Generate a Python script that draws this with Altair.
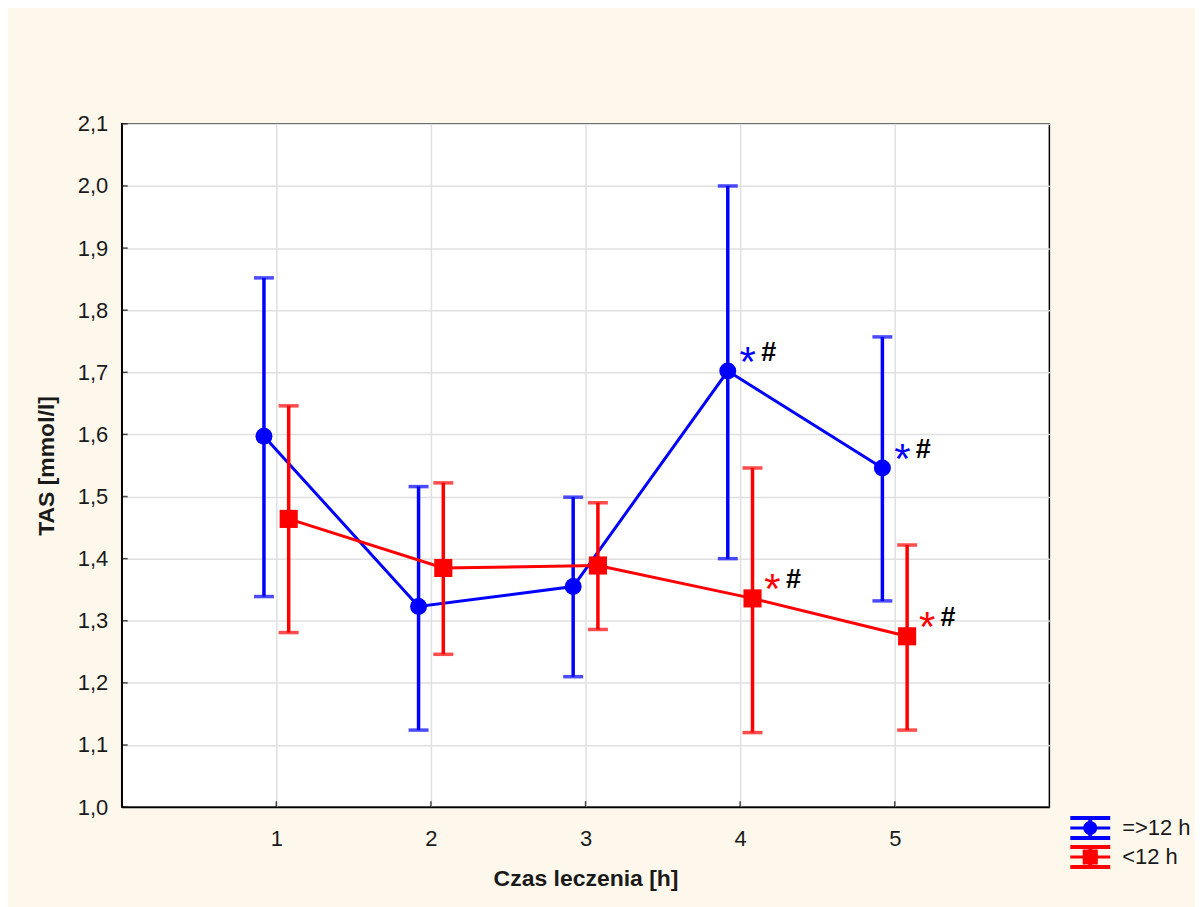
import altair as alt
import pandas as pd

# ---- data ----
times = [1, 2, 3, 4, 5]
groups = ["=>12 h", "<12 h"]
colors = ["#0000FF", "#FF0000"]

blue_mean = [1.597, 1.323, 1.355, 1.702, 1.546]
blue_lo = [1.339, 1.124, 1.210, 1.400, 1.332]
blue_hi = [1.852, 1.516, 1.499, 2.000, 1.757]
blue_sig = [False, False, False, True, True]

red_mean = [1.464, 1.385, 1.389, 1.336, 1.275]
red_lo = [1.281, 1.246, 1.286, 1.120, 1.124]
red_hi = [1.646, 1.522, 1.490, 1.546, 1.422]
red_sig = [False, False, False, True, True]

x_ticks = [1, 2, 3, 4, 5]
y_ticks = [1.0, 1.1, 1.2, 1.3, 1.4, 1.5, 1.6, 1.7, 1.8, 1.9, 2.0, 2.1]

FONT = "Liberation Sans"
TXT = "#1a1a1a"

series = [
    (groups[0], colors[0], blue_mean, blue_lo, blue_hi, blue_sig, -0.08, "circle", 290),
    (groups[1], colors[1], red_mean, red_lo, red_hi, red_sig, 0.08, "square", 330),
]

xscale = alt.Scale(domain=[0, 6], nice=False, zero=False)
yscale = alt.Scale(domain=[1.0, 2.1], nice=False, zero=False)
xaxis = alt.Axis(values=x_ticks, title="Czas leczenia [h]", format="d",
                 labelPadding=21, titlePadding=19, grid=True)
yaxis = alt.Axis(values=y_ticks, title="TAS [mmol/l]", grid=True,
                 labelExpr="replace(format(datum.value, '.1f'), '.', ',')",
                 labelPadding=14, titlePadding=19)

X = alt.X("xpos:Q", scale=xscale, axis=xaxis)

# legend symbols: error-bar glyph with the series marker
circle_path = ("M-1.43,-0.857H1.43V-0.571H-1.43Z M-1.43,0.571H1.43V0.857H-1.43Z "
               "M-0.143,-0.6H0.143V0.6H-0.143Z M-1.43,-0.107H1.43V0.107H-1.43Z "
               "M-0.5,0A0.5,0.5,0,1,1,0.5,0A0.5,0.5,0,1,1,-0.5,0Z")
square_path = ("M-1.43,-0.857H1.43V-0.571H-1.43Z M-1.43,0.571H1.43V0.857H-1.43Z "
               "M-0.143,-0.6H0.143V0.6H-0.143Z M-1.43,-0.107H1.43V0.107H-1.43Z "
               "M-0.54,-0.54H0.54V0.54H-0.54Z")

layers = []
frames = []
for name, col, mean, lo, hi, sig, off, shp, sz in series:
    df = pd.DataFrame({"group": name, "t": times, "mean": mean, "lo": lo, "hi": hi, "sig": sig})
    frames.append(df.assign(off=off))

all_df = pd.concat(frames)
# legend layer: tiny marks hidden under the real markers, carrying the legend
leg = alt.Chart(all_df).transform_calculate(xpos="datum.t + datum.off").mark_point(
    filled=True, size=8, opacity=1).encode(
    x=X, y=alt.Y("mean:Q", scale=yscale, axis=yaxis),
    color=alt.Color("group:N", scale=alt.Scale(domain=groups, range=colors),
                    legend=alt.Legend(orient="none", legendX=957, legendY=692, title=None,
                                      symbolSize=784, symbolStrokeWidth=0, symbolOpacity=1,
                                      labelFont=FONT, labelFontSize=22, labelColor=TXT,
                                      labelOffset=18, rowPadding=3, padding=0)),
    shape=alt.Shape("group:N", scale=alt.Scale(domain=groups, range=[circle_path, square_path])),
)
layers.append(leg)

for (name, col, mean, lo, hi, sig, off, shp, sz), df in zip(series, frames):
    base = alt.Chart(df).transform_calculate(xpos=f"datum.t + ({off})")
    line = base.mark_line(color=col, strokeWidth=3).encode(
        x=X, y=alt.Y("mean:Q", scale=yscale, axis=yaxis))
    rule = base.mark_rule(color=col, strokeWidth=3.5).encode(
        x=X, y=alt.Y("lo:Q", scale=yscale, axis=yaxis), y2="hi:Q")
    caps = base.transform_fold(["lo", "hi"], as_=["k", "v"]).mark_tick(
        color=col, orient="horizontal", size=20, thickness=3.5).encode(
        x=X, y=alt.Y("v:Q", scale=yscale, axis=yaxis))
    pts = base.mark_point(filled=True, shape=shp, size=sz, color=col, opacity=1, strokeWidth=0).encode(
        x=X, y=alt.Y("mean:Q", scale=yscale, axis=yaxis))
    star = base.transform_filter("datum.sig").mark_text(
        text="*", font=FONT, fontSize=42, color=col, align="center", baseline="alphabetic",
        dx=20, dy=5).encode(x=X, y=alt.Y("mean:Q", scale=yscale, axis=yaxis))
    hsh = base.transform_filter("datum.sig").mark_text(
        text="#", font=FONT, fontSize=27, fontWeight="bold", color="black", align="center",
        baseline="alphabetic", dx=41, dy=-10).encode(x=X, y=alt.Y("mean:Q", scale=yscale, axis=yaxis))
    layers += [line, rule, caps, pts, star, hsh]

# inward axis ticks
ytick_df = pd.DataFrame({"v": y_ticks})
ytk = alt.Chart(ytick_df).transform_calculate(xpos="0").mark_tick(
    orient="horizontal", size=6, thickness=1.5, color="black", xOffset=3).encode(
    x=X, y=alt.Y("v:Q", scale=yscale, axis=yaxis))
xtick_df = pd.DataFrame({"xpos": x_ticks})
xtk = alt.Chart(xtick_df).transform_calculate(v=str(y_ticks[0])).mark_tick(
    orient="vertical", size=6, thickness=1.5, color="black", yOffset=-3).encode(
    x=X, y=alt.Y("v:Q", scale=yscale, axis=yaxis))

chart = alt.layer(ytk, xtk, *layers).properties(
    width=930, height=685, background="#FEF8EC",
    padding={"left": 114, "top": 115, "right": 146, "bottom": 99},
    autosize=alt.AutoSizeParams(type="none"),
).configure_view(stroke="black", strokeWidth=1.5, fill="white").configure_axis(
    gridColor="#E0E0E0", gridWidth=1.5, domainColor="black", domainWidth=1.5, ticks=False,
    labelFont=FONT, labelFontSize=22, labelColor=TXT,
    titleFont=FONT, titleFontSize=23, titleFontWeight="bold", titleColor=TXT,
)

chart.save("out.html", embed_options={"renderer": "svg", "actions": False})
